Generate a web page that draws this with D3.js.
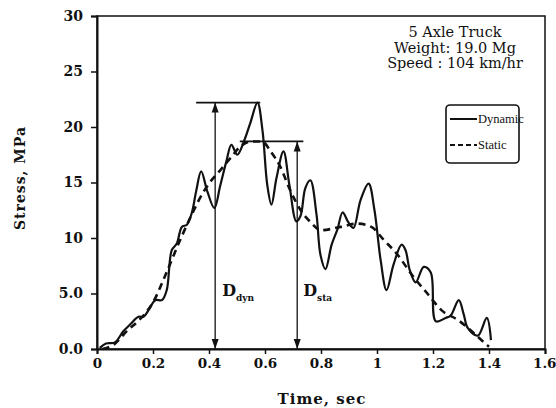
<!DOCTYPE html>
<html>
<head>
<meta charset="utf-8">
<script src="https://cdn.jsdelivr.net/npm/d3@7"></script>
<style>
  body { margin: 0; background: #fff; }
  text { font-family: "DejaVu Serif", serif; fill: #111; }
</style>
</head>
<body>
<div id="chart"></div>
<script>
// dynamic strain record (time sec, stress MPa)
var dynTime = [0.01, 0.032, 0.064, 0.094, 0.118, 0.148, 0.166, 0.184, 0.208, 0.232, 0.249, 0.267, 0.285, 0.303, 0.321, 0.339, 0.354, 0.372, 0.394, 0.419, 0.44, 0.462, 0.48, 0.501, 0.526, 0.548, 0.573, 0.591, 0.608, 0.623, 0.641, 0.666, 0.687, 0.712, 0.727, 0.744, 0.762, 0.784, 0.798, 0.816, 0.838, 0.859, 0.877, 0.898, 0.916, 0.941, 0.97, 0.991, 1.013, 1.034, 1.059, 1.088, 1.102, 1.117, 1.138, 1.167, 1.192, 1.21, 1.245, 1.263, 1.292, 1.31, 1.324, 1.36, 1.392, 1.407];
var dynStress = [0.1, 0.5, 0.6, 1.6, 2.2, 2.9, 2.9, 3.5, 4.4, 4.4, 5.3, 8.9, 9.5, 11.0, 11.2, 12.3, 14.2, 16.0, 14.2, 12.7, 14.7, 16.9, 18.4, 17.5, 18.8, 20.4, 22.2, 19.7, 14.8, 13.0, 15.4, 17.8, 14.8, 11.5, 12.0, 14.5, 15.2, 12.1, 8.5, 7.2, 9.4, 10.8, 12.3, 11.4, 10.9, 13.4, 14.9, 12.5, 8.0, 5.3, 7.6, 9.4, 8.9, 7.1, 6.0, 7.4, 6.9, 2.5, 2.8, 3.0, 4.4, 3.1, 1.9, 1.2, 2.8, 0.8];

// static (quasi-static) response
var staTime = [0.02, 0.06, 0.11, 0.15, 0.2, 0.25, 0.3, 0.34, 0.37, 0.4, 0.44, 0.48, 0.51, 0.55, 0.59, 0.62, 0.655, 0.69, 0.73, 0.76, 0.8, 0.87, 0.93, 0.98, 1.025, 1.07, 1.13, 1.18, 1.23, 1.29, 1.32, 1.36, 1.4];
var staStress = [0.0, 0.4, 1.7, 2.6, 4.2, 7.0, 10.0, 12.2, 13.7, 14.9, 16.1, 17.3, 18.2, 18.7, 18.7, 17.8, 16.4, 14.3, 12.4, 11.5, 10.7, 11.0, 11.3, 11.0, 9.8, 8.6, 6.5, 5.0, 3.5, 2.6, 2.0, 1.1, 0.2];

var xTicks = [0, 0.2, 0.4, 0.6, 0.8, 1, 1.2, 1.4, 1.6];
var xTickLabels = ["0", "0.2", "0.4", "0.6", "0.8", "1", "1.2", "1.4", "1.6"];
var yTicks = [0, 5, 10, 15, 20, 25, 30];
var yTickLabels = ["0.0", "5.0", "10", "15", "20", "25", "30"];

var infoLines = ["5 Axle Truck", "Weight: 19.0 Mg", "Speed : 104 km/hr"];

// D_dyn and D_sta markers: arrow time, stress level, horizontal line start/end
var dDyn = {t: 0.422, s: 22.2, from: 0.354, to: 0.583};
var dSta = {t: 0.715, s: 18.7, from: 0.51, to: 0.737};

var width = 556, height = 408;
var svg = d3.select("#chart").append("svg")
  .attr("width", width)
  .attr("height", height);

var x = d3.scaleLinear().domain([0, 1.6]).range([97, 545]);
var y = d3.scaleLinear().domain([0, 30]).range([349, 16]);

// frame
svg.append("rect")
  .attr("x", x(0)).attr("y", y(30))
  .attr("width", x(1.6) - x(0)).attr("height", y(0) - y(30))
  .attr("fill", "none").attr("stroke", "#111").attr("stroke-width", 1.5);

var xAxis = svg.append("g")
  .attr("transform", "translate(0," + y(0) + ")")
  .call(d3.axisBottom(x).tickValues(xTicks).tickSize(5).tickPadding(4)
    .tickFormat(function(d, i){ return xTickLabels[i]; }));
var yAxis = svg.append("g")
  .attr("transform", "translate(" + x(0) + ",0)")
  .call(d3.axisLeft(y).tickValues(yTicks).tickSize(6).tickPadding(8)
    .tickFormat(function(d, i){ return yTickLabels[i]; }));

[xAxis, yAxis].forEach(function(g){
  g.select(".domain").attr("stroke", "#111").attr("stroke-width", 2);
  g.selectAll(".tick line").attr("stroke", "#111").attr("stroke-width", 1.5);
  g.selectAll(".tick text")
    .style("font-family", "DejaVu Serif, serif")
    .style("font-size", "14px")
    .style("font-weight", "bold")
    .attr("fill", "#111");
});
xAxis.selectAll(".tick text").style("font-size", "13.5px");
// keep the last label inside the window
xAxis.selectAll(".tick text").filter(function(d){ return d === 1.6; })
  .attr("text-anchor", "end").attr("dx", "11");

// axis titles
svg.append("text")
  .attr("x", 322).attr("y", 404)
  .attr("text-anchor", "middle")
  .style("font-size", "15px").style("font-weight", "bold")
  .style("letter-spacing", "1px")
  .text("Time, sec");
svg.append("text")
  .attr("transform", "translate(25,178) rotate(-90)")
  .attr("text-anchor", "middle")
  .style("font-size", "14px").style("font-weight", "bold")
  .style("letter-spacing", "1px")
  .text("Stress, MPa");

// curves
var dynData = dynTime.map(function(t, i){ return [t, dynStress[i]]; });
var staData = staTime.map(function(t, i){ return [t, staStress[i]]; });

var line = d3.line()
  .x(function(d){ return x(d[0]); })
  .y(function(d){ return y(d[1]); });

svg.append("path")
  .datum(staData)
  .attr("d", line.curve(d3.curveMonotoneX))
  .attr("fill", "none").attr("stroke", "#111")
  .attr("stroke-width", 2.6).attr("stroke-dasharray", "7,5");

svg.append("path")
  .datum(dynData)
  .attr("d", line.curve(d3.curveCatmullRom.alpha(0.5)))
  .attr("fill", "none").attr("stroke", "#111")
  .attr("stroke-width", 2.2).attr("stroke-linejoin", "round");

// D markers
function marker(m, label, sub, labelDx) {
  var g = svg.append("g");
  g.append("line")
    .attr("x1", x(m.from)).attr("x2", x(m.to))
    .attr("y1", y(m.s)).attr("y2", y(m.s))
    .attr("stroke", "#111").attr("stroke-width", 1.8);
  g.append("line")
    .attr("x1", x(m.t)).attr("x2", x(m.t))
    .attr("y1", y(m.s)).attr("y2", y(0))
    .attr("stroke", "#111").attr("stroke-width", 1.3);
  var cx = x(m.t), top = y(m.s), bot = y(0);
  g.append("path")
    .attr("d", "M" + cx + "," + top + "L" + (cx - 3.5) + "," + (top + 10) + "L" + (cx + 3.5) + "," + (top + 10) + "Z")
    .attr("fill", "#111");
  g.append("path")
    .attr("d", "M" + cx + "," + bot + "L" + (cx - 3.5) + "," + (bot - 10) + "L" + (cx + 3.5) + "," + (bot - 10) + "Z")
    .attr("fill", "#111");
  var t = g.append("text")
    .attr("x", cx + labelDx).attr("y", 296)
    .style("font-size", "16px").style("font-weight", "bold");
  t.append("tspan").text(label);
  t.append("tspan").attr("dy", 5).style("font-size", "9px").text(sub);
}
marker(dDyn, "D", "dyn", 7);
marker(dSta, "D", "sta", 6);

// info text
svg.selectAll(".info")
  .data(infoLines)
  .enter().append("text")
  .attr("class", "info")
  .attr("x", 455)
  .attr("y", function(d, i){ return 37 + i * 15.5; })
  .attr("text-anchor", "middle")
  .style("font-size", "14.5px")
  .text(function(d){ return d; });

// legend
var lg = svg.append("g");
lg.append("rect")
  .attr("x", 446).attr("y", 105).attr("width", 73).attr("height", 58)
  .attr("rx", 4)
  .attr("fill", "#fff").attr("stroke", "#111").attr("stroke-width", 1.6);
var legendItems = [["Dynamic", null, 119], ["Static", "5,3", 145]];
legendItems.forEach(function(it){
  lg.append("line")
    .attr("x1", 450).attr("x2", 477).attr("y1", it[2]).attr("y2", it[2])
    .attr("stroke", "#111").attr("stroke-width", 2)
    .attr("stroke-dasharray", it[1]);
  lg.append("text")
    .attr("x", 478).attr("y", it[2] + 4)
    .style("font-family", "Liberation Serif, serif")
    .style("font-size", "12.5px")
    .text(it[0]);
});
</script>
</body>
</html>
